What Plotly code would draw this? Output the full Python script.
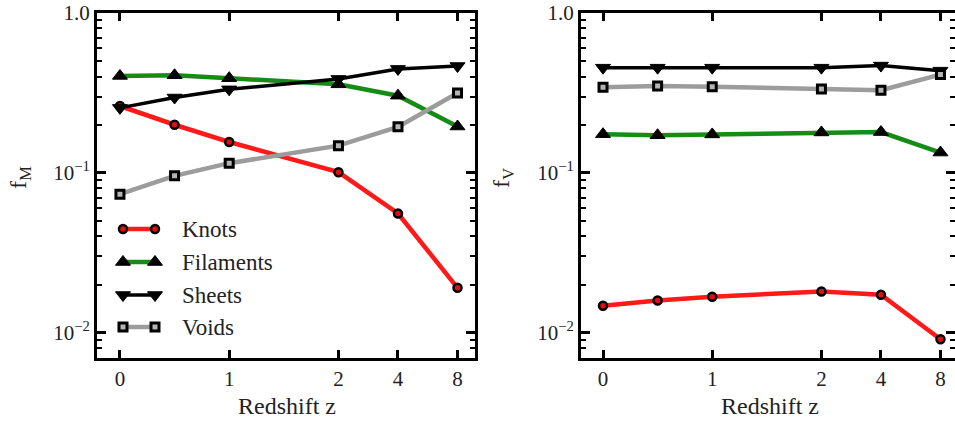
import numpy as np
import plotly.graph_objects as go

# ---- data -------------------------------------------------------------
redshift = [0, 0.5, 1, 2, 4, 8]
tick_z = [0, 1, 2, 4, 8]
tick_labels = ["0", "1", "2", "4", "8"]

# mass fractions f_M
mass_knots = [0.262, 0.200, 0.156, 0.101, 0.0557, 0.0191]
mass_filaments = [0.404, 0.408, 0.391, 0.358, 0.304, 0.195]
mass_sheets = [0.255, 0.296, 0.333, 0.387, 0.447, 0.466]
mass_voids = [0.0736, 0.0958, 0.115, 0.148, 0.194, 0.316]

# volume fractions f_V
vol_knots = [0.01475, 0.0159, 0.0168, 0.0181, 0.0173, 0.0091]
vol_filaments = [0.1745, 0.172, 0.174, 0.179, 0.180, 0.134]
vol_sheets = [0.455, 0.455, 0.455, 0.455, 0.469, 0.436]
vol_voids = [0.343, 0.350, 0.346, 0.335, 0.329, 0.412]

y_tick_vals = [0.01, 0.1, 1.0]
y_tick_text = ["10<sup>\u22122</sup>", "10<sup>\u22121</sup>", "1.0"]

series_names = ["Knots", "Filaments", "Sheets", "Voids"]


# ---- redshift axis: linear up to z=2, compressed (log2) beyond --------
def z_axis(z):
    z = np.asarray(z, dtype=float)
    return np.where(z <= 2, z, 2 + 0.545 * np.log2(np.maximum(z, 2) / 2))


styles = {
    "Knots": dict(line=dict(color="#ff1a1a", width=4.5),
                  marker=dict(symbol="circle", size=8, color="#e01010",
                              line=dict(color="black", width=2.5))),
    "Filaments": dict(line=dict(color="#168c16", width=4.5),
                      marker=dict(symbol="triangle-up", size=13, color="black",
                                  line=dict(color="black", width=1))),
    "Sheets": dict(line=dict(color="black", width=3.5),
                   marker=dict(symbol="triangle-down", size=13, color="black",
                               line=dict(color="black", width=1))),
    "Voids": dict(line=dict(color="#9c9c9c", width=4.5),
                  marker=dict(symbol="square", size=8, color="#b5b5b5",
                              line=dict(color="black", width=3))),
}

SERIF = "Liberation Serif, DejaVu Serif, serif"
TXT = "#222"

W, H = 955, 424
fig = go.Figure()

xpos = [float(v) for v in z_axis(redshift)]
panels = [
    ("x", "y", [mass_knots, mass_filaments, mass_sheets, mass_voids]),
    ("x2", "y2", [vol_knots, vol_filaments, vol_sheets, vol_voids]),
]
for xa, ya, values in panels:
    for name, vals in zip(series_names, values):
        fig.add_trace(go.Scatter(x=xpos, y=vals, mode="lines+markers",
                                 name=name, xaxis=xa, yaxis=ya,
                                 showlegend=False, cliponaxis=False,
                                 **styles[name]))

# ---- legend keys (line with a marker at each end) ----------------------
legend_rows = [229, 262, 295, 327]
for name, yrow in zip(series_names, legend_rows):
    fig.add_trace(go.Scatter(x=[123, 155], y=[yrow, yrow], mode="lines+markers",
                             xaxis="x3", yaxis="y3", showlegend=False,
                             hoverinfo="skip", **styles[name]))
    fig.add_annotation(x=180 / W, y=1 - yrow / H, xref="paper", yref="paper",
                       text=name, showarrow=False, xanchor="left",
                       yanchor="middle",
                       font=dict(family=SERIF, size=23, color=TXT))

# ---- axes ---------------------------------------------------------------
top, bottom = 13, 358
ydom = [1 - bottom / H, 1 - top / H]
ylog_range = [-2.158, 0]
minor_vals = [m * 10.0 ** e for e in (-3, -2, -1) for m in range(2, 10)]

font = dict(family=SERIF, size=21, color=TXT)

common_x = dict(tickmode="array", tickvals=[float(v) for v in z_axis(tick_z)],
                ticktext=tick_labels, ticks="inside", ticklen=8, tickwidth=2.5,
                tickcolor="black", showline=True, linecolor="black",
                linewidth=3, mirror="allticks", showgrid=False, zeroline=False,
                tickfont=font, automargin=False)
common_y = dict(type="log", range=ylog_range, tickmode="array",
                tickvals=y_tick_vals, ticktext=y_tick_text, ticks="inside",
                ticklen=9, tickwidth=2.5, tickcolor="black", showline=True,
                linecolor="black", linewidth=3, mirror="allticks",
                showgrid=False, zeroline=False, tickfont=font,
                automargin=False,
                minor=dict(ticks="inside", ticklen=5, tickwidth=2,
                           tickcolor="black", tickmode="array",
                           tickvals=minor_vals, showgrid=False))

fig.update_layout(
    width=W, height=H,
    margin=dict(l=0, r=0, t=0, b=0),
    paper_bgcolor="white", plot_bgcolor="rgba(0,0,0,0)",
    showlegend=False,
    xaxis=dict(domain=[97 / W, 475 / W], range=[-0.21, 3.25], anchor="y",
               **common_x),
    yaxis=dict(domain=ydom, anchor="x", **common_y),
    xaxis2=dict(domain=[581 / W, 1.0], range=[-0.2015, 3.223], anchor="y2",
                **common_x),
    yaxis2=dict(domain=ydom, anchor="x2", **common_y),
    xaxis3=dict(domain=[0, 1], range=[0, W], visible=False, anchor="y3"),
    yaxis3=dict(domain=[0, 1], range=[H, 0], visible=False, anchor="x3"),
)

# axis titles
title_font = dict(family=SERIF, size=24, color=TXT)
for xc in (287, 770):
    fig.add_annotation(x=xc / W, y=1 - 406 / H, xref="paper", yref="paper",
                       text="Redshift z", showarrow=False, font=title_font,
                       xanchor="center", yanchor="middle")
for xc, lab in ((20, "f<sub>M</sub>"), (503, "f<sub>V</sub>")):
    fig.add_annotation(x=xc / W, y=1 - 178 / H, xref="paper", yref="paper",
                       text=lab, showarrow=False, font=title_font,
                       textangle=-90, xanchor="center", yanchor="middle")

fig.write_html("out.html")
